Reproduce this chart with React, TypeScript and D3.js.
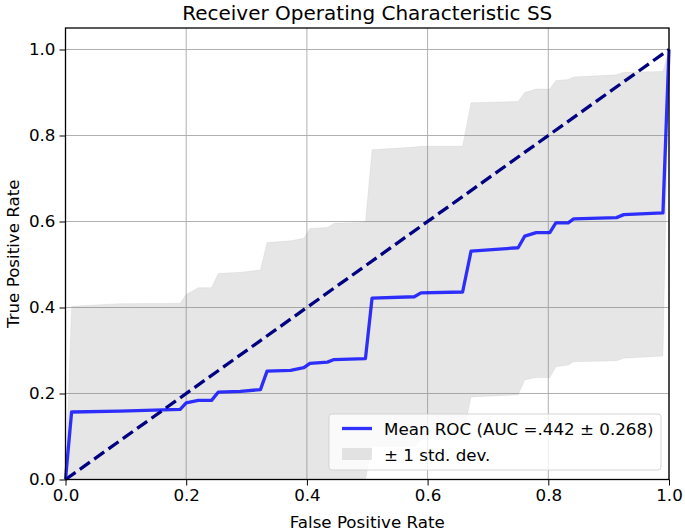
import React, {useEffect, useRef} from 'react';
import * as d3 from 'd3';

// mean ROC (interpolated)
const fpr = [0, 0.0101, 0.09, 0.19, 0.2, 0.22, 0.242, 0.253, 0.29, 0.323, 0.334, 0.373, 0.395, 0.405, 0.434, 0.445, 0.497,
  0.508, 0.578, 0.589, 0.658, 0.672, 0.75, 0.761, 0.78, 0.8025, 0.8125, 0.833, 0.842, 0.913, 0.925, 0.99, 1.0];
const meanTpr = [0, 0.157, 0.159, 0.163, 0.178, 0.184, 0.184, 0.203, 0.205, 0.209, 0.252, 0.254, 0.26, 0.27, 0.273, 0.279, 0.281,
  0.422, 0.425, 0.434, 0.436, 0.531, 0.539, 0.566, 0.574, 0.574, 0.597, 0.597, 0.606, 0.609, 0.616, 0.62, 1.0];
const upperTpr = [0, 0.403, 0.409, 0.41, 0.43, 0.446, 0.446, 0.479, 0.482, 0.487, 0.551, 0.555, 0.561, 0.584, 0.586, 0.596, 0.598,
  0.767, 0.773, 0.775, 0.775, 0.876, 0.879, 0.9, 0.908, 0.908, 0.928, 0.93, 0.936, 0.941, 0.947, 0.949, 1.0];
const lowerTpr = [0, 0, 0, 0, 0, 0, 0, 0, 0, 0, 0, 0, 0, 0, 0, 0, 0,
  0.077, 0.077, 0.093, 0.097, 0.192, 0.197, 0.232, 0.237, 0.237, 0.262, 0.266, 0.274, 0.276, 0.282, 0.287, 1.0];
const ticks = [0, 0.2, 0.4, 0.6, 0.8, 1.0];

const title = 'Receiver Operating Characteristic SS';
const meanLabel = 'Mean ROC (AUC =.442 \u00b1 0.268)';
const bandLabel = '\u00b1 1 std. dev.';

interface Pt {
  x: number
  m: number
  lo: number
  hi: number
}

const App: React.FC = () => {
  const ref = useRef<SVGSVGElement>(null);
  const width = 685;
  const height = 531;
  const left = 65.5, right = 669, top = 28, bottom = 479.5;

  useEffect(() => {
    const svg = d3.select(ref.current);
    svg.selectAll('*').remove();

    const data: Pt[] = fpr.map((x, i) => ({x, m: meanTpr[i], lo: lowerTpr[i], hi: upperTpr[i]}));

    const x = d3.scaleLinear([0, 1], [left, right]);
    const y = d3.scaleLinear([0, 1.05], [bottom, top]);
    const font = 'DejaVu Sans, sans-serif';

    svg.append('rect').attr('width', width).attr('height', height).attr('fill', 'white');

    // grid
    const grid = svg.append('g').attr('stroke', '#b0b0b0').attr('stroke-width', 1);
    ticks.forEach(t => {
      grid.append('line').attr('x1', x(t)).attr('x2', x(t)).attr('y1', top).attr('y2', bottom);
      grid.append('line').attr('x1', left).attr('x2', right).attr('y1', y(t)).attr('y2', y(t));
    });

    // std band
    const area = d3.area<Pt>().x(d => x(d.x)).y0(d => y(d.lo)).y1(d => y(d.hi));
    svg.append('path')
      .attr('d', area(data))
      .attr('fill', '#808080')
      .attr('fill-opacity', 0.2)
      .attr('stroke', '#808080')
      .attr('stroke-opacity', 0.1);

    // chance line
    svg.append('line')
      .attr('x1', x(0)).attr('y1', y(0)).attr('x2', x(1)).attr('y2', y(1))
      .attr('stroke', 'navy')
      .attr('stroke-width', 3.3)
      .attr('stroke-dasharray', '12.3,5.3');

    // mean ROC
    const line = d3.line<Pt>().x(d => x(d.x)).y(d => y(d.m));
    svg.append('path')
      .attr('d', line(data))
      .attr('fill', 'none')
      .attr('stroke', 'blue')
      .attr('stroke-opacity', 0.8)
      .attr('stroke-width', 3.3)
      .attr('stroke-linejoin', 'round');

    // frame
    svg.append('rect')
      .attr('x', left).attr('y', top).attr('width', right - left).attr('height', bottom - top)
      .attr('fill', 'none').attr('stroke', 'black').attr('stroke-width', 1.3);

    // axes
    svg.append('g')
      .attr('transform', `translate(0,${bottom})`)
      .call(d3.axisBottom(x).tickValues(ticks).tickFormat(d3.format('.1f')).tickSize(6).tickPadding(4).tickSizeOuter(0))
      .call(g => g.select('.domain').remove())
      .call(g => g.selectAll('text').attr('font-size', 16.7).attr('font-family', font).attr('fill', '#000'));

    svg.append('g')
      .attr('transform', `translate(${left},0)`)
      .call(d3.axisLeft(y).tickValues(ticks).tickFormat(d3.format('.1f')).tickSize(6).tickPadding(4).tickSizeOuter(0))
      .call(g => g.select('.domain').remove())
      .call(g => g.selectAll('text').attr('font-size', 16.7).attr('font-family', font).attr('fill', '#000'));

    // labels
    svg.append('text')
      .attr('x', (left + right) / 2).attr('y', 20)
      .attr('text-anchor', 'middle').attr('font-family', font).attr('font-size', 20)
      .text(title);
    svg.append('text')
      .attr('x', (left + right) / 2).attr('y', 528)
      .attr('text-anchor', 'middle').attr('font-family', font).attr('font-size', 16.7)
      .text('False Positive Rate');
    svg.append('text')
      .attr('transform', `translate(19,${(top + bottom) / 2}) rotate(-90)`)
      .attr('text-anchor', 'middle').attr('font-family', font).attr('font-size', 16.7)
      .text('True Positive Rate');

    // legend
    const lg = svg.append('g');
    lg.append('rect')
      .attr('x', 329).attr('y', 414).attr('width', 332).attr('height', 56).attr('rx', 3)
      .attr('fill', 'white').attr('fill-opacity', 0.8)
      .attr('stroke', '#cccccc').attr('stroke-opacity', 0.8);
    lg.append('line')
      .attr('x1', 342).attr('x2', 372).attr('y1', 428.5).attr('y2', 428.5)
      .attr('stroke', 'blue').attr('stroke-opacity', 0.8).attr('stroke-width', 3.3);
    lg.append('rect')
      .attr('x', 342).attr('y', 448).attr('width', 30).attr('height', 12)
      .attr('fill', '#808080').attr('fill-opacity', 0.2);
    lg.append('text')
      .attr('x', 384).attr('y', 434.5).attr('font-family', font).attr('font-size', 16.7)
      .text(meanLabel);
    lg.append('text')
      .attr('x', 384).attr('y', 460.5).attr('font-family', font).attr('font-size', 16.7)
      .text(bandLabel);
  }, []);

  return <svg ref={ref} width={width} height={height} style={{display: 'block', position: 'absolute', left: 0, top: 0}}/>;
};

export default App;
